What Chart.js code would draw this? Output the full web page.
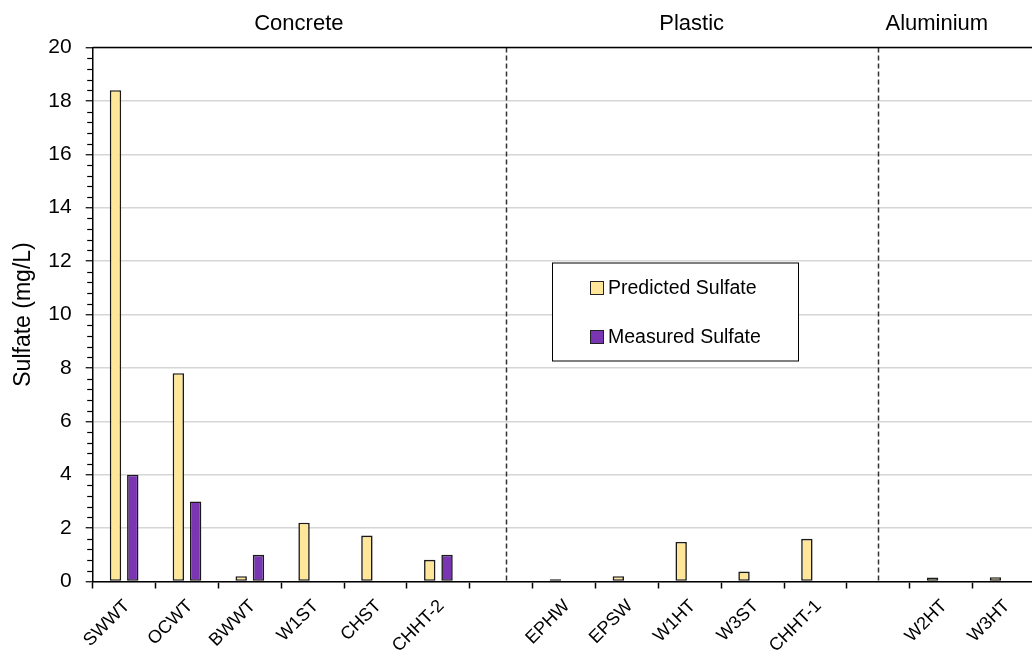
<!DOCTYPE html>
<html>
<head>
<meta charset="utf-8">
<script src="https://cdn.jsdelivr.net/npm/chart.js@4/dist/chart.umd.min.js"></script>
<style>
  html, body { margin: 0; padding: 0; background: #fff; overflow: hidden; }
  #wrap { width: 1040px; height: 659px; }
</style>
</head>
<body>
<div id="wrap"><canvas id="c" width="1040" height="659"></canvas></div>
<script>
// Sampling sites, grouped by tank material; blank entries separate the groups
const categories = ['SWWT', 'OCWT', 'BWWT', 'W1ST', 'CHST', 'CHHT-2', '',
                    'EPHW', 'EPSW', 'W1HT', 'W3ST', 'CHHT-1', '',
                    'W2HT', 'W3HT'];

// Sulfate concentrations (mg/L)
const predictedSulfate = [18.4, 7.8, 0.2, 2.2, 1.72, 0.81, null,
                          0.08, 0.2, 1.48, 0.37, 1.6, null,
                          0.15, 0.16];
const measuredSulfate  = [4.0, 3.0, 1.0, null, null, 1.0, null,
                          null, null, null, null, null, null,
                          null, null];

// Material groups: names, label centres and divider positions (category index units)
const groupNames   = ['Concrete', 'Plastic', 'Aluminium'];
const groupCenters = [2.78, 9.03, 12.93];
const groupDividers = [6.07, 12.0];

// Y axis range and tick spacing
const yMin = 0, yMax = 20, yStep = 2, yMinorStep = 0.4;

const FONT = "'Liberation Sans', Arial, sans-serif";

const framePlugin = {
  id: 'frame',
  beforeDatasetsDraw(chart) {
    const { ctx, chartArea: a, scales: { x } } = chart;
    ctx.save();
    // dashed dividers between material groups
    ctx.strokeStyle = '#333';
    ctx.lineWidth = 1.5;
    ctx.setLineDash([5, 3]);
    groupDividers.forEach(v => {
      const px = Math.round(x.getPixelForValue(v)) + 0.5;
      ctx.beginPath();
      ctx.moveTo(px, a.top);
      ctx.lineTo(px, a.bottom);
      ctx.stroke();
    });
    ctx.restore();
  },
  afterDraw(chart) {
    const { ctx, chartArea: a, scales: { x, y } } = chart;
    ctx.save();
    // top border of plot area
    ctx.strokeStyle = '#000';
    ctx.lineWidth = 1.5;
    ctx.beginPath();
    ctx.moveTo(a.left, a.top);
    ctx.lineTo(a.right, a.top);
    ctx.stroke();
    // minor ticks on the y axis
    ctx.lineWidth = 1.2;
    const n = Math.round((yMax - yMin) / yMinorStep);
    for (let i = 0; i <= n; i++) {
      const v = yMin + i * yMinorStep;
      if (Math.abs(v / yStep - Math.round(v / yStep)) < 1e-6) continue;
      const py = Math.round(y.getPixelForValue(v)) + 0.5;
      ctx.beginPath();
      ctx.moveTo(a.left - 5.5, py);
      ctx.lineTo(a.left, py);
      ctx.stroke();
    }
    // group names above the plot
    ctx.fillStyle = '#000';
    ctx.font = '22px ' + FONT;
    ctx.textAlign = 'center';
    ctx.textBaseline = 'middle';
    groupNames.forEach((name, i) => {
      ctx.fillText(name, x.getPixelForValue(groupCenters[i]), 24);
    });
    // legend box
    const lx = 552.5, ly = 263, lw = 246, lh = 98;
    ctx.fillStyle = '#fff';
    ctx.fillRect(lx, ly, lw, lh);
    ctx.strokeStyle = '#000';
    ctx.lineWidth = 1;
    ctx.strokeRect(lx, ly, lw, lh);
    ctx.font = '19.5px ' + FONT;
    ctx.textAlign = 'left';
    chart.data.datasets.forEach((ds, i) => {
      const cy = ly + 25 + i * 49;
      ctx.fillStyle = ds.backgroundColor;
      ctx.fillRect(590.5, cy - 6.5, 13, 13);
      ctx.strokeStyle = '#222';
      ctx.lineWidth = 1;
      ctx.strokeRect(590.5, cy - 6.5, 13, 13);
      ctx.fillStyle = '#000';
      ctx.fillText(ds.label, 608, cy + 1);
    });
    ctx.restore();
  }
};

new Chart(document.getElementById('c'), {
  type: 'bar',
  data: {
    labels: categories,
    datasets: [
      {
        label: 'Predicted Sulfate',
        data: predictedSulfate,
        backgroundColor: '#FFE699',
        borderColor: '#1a1a1a',
        borderWidth: 1.6,
        borderSkipped: false
      },
      {
        label: 'Measured Sulfate',
        data: measuredSulfate,
        backgroundColor: '#7A35B3',
        borderColor: '#1a1a1a',
        borderWidth: 1.6,
        borderSkipped: false
      }
    ]
  },
  options: {
    responsive: false,
    devicePixelRatio: 1,
    animation: false,
    categoryPercentage: 0.55,
    barPercentage: 0.66,
    layout: { padding: { left: 0, right: 4.5, top: 47.5, bottom: 0 } },
    plugins: {
      legend: { display: false },
      tooltip: { enabled: false }
    },
    scales: {
      x: {
        grid: {
          offset: true,
          drawOnChartArea: false,
          drawTicks: true,
          tickLength: 7,
          tickColor: '#000',
          tickWidth: 1.5
        },
        border: { display: true, color: '#000', width: 1.5 },
        ticks: {
          autoSkip: false,
          maxRotation: 45,
          minRotation: 45,
          padding: 7,
          labelOffset: 3,
          color: '#000',
          font: { family: FONT, size: 18 }
        },
        afterFit(scale) { scale.height = 77.5; }
      },
      y: {
        min: yMin,
        max: yMax,
        ticks: {
          stepSize: yStep,
          padding: 14,
          color: '#000',
          font: { family: FONT, size: 21 }
        },
        grid: {
          color: '#D6D6D6',
          lineWidth: 1.5,
          drawTicks: true,
          tickLength: 7,
          tickColor: '#000',
          tickWidth: 1.2
        },
        border: { display: true, color: '#000', width: 1.5 },
        title: {
          display: true,
          text: 'Sulfate (mg/L)',
          color: '#000',
          font: { family: FONT, size: 23 },
          padding: { top: 10, bottom: 0 }
        },
        afterFit(scale) { scale.width = 92.7; }
      }
    }
  },
  plugins: [framePlugin]
});
</script>
</body>
</html>
